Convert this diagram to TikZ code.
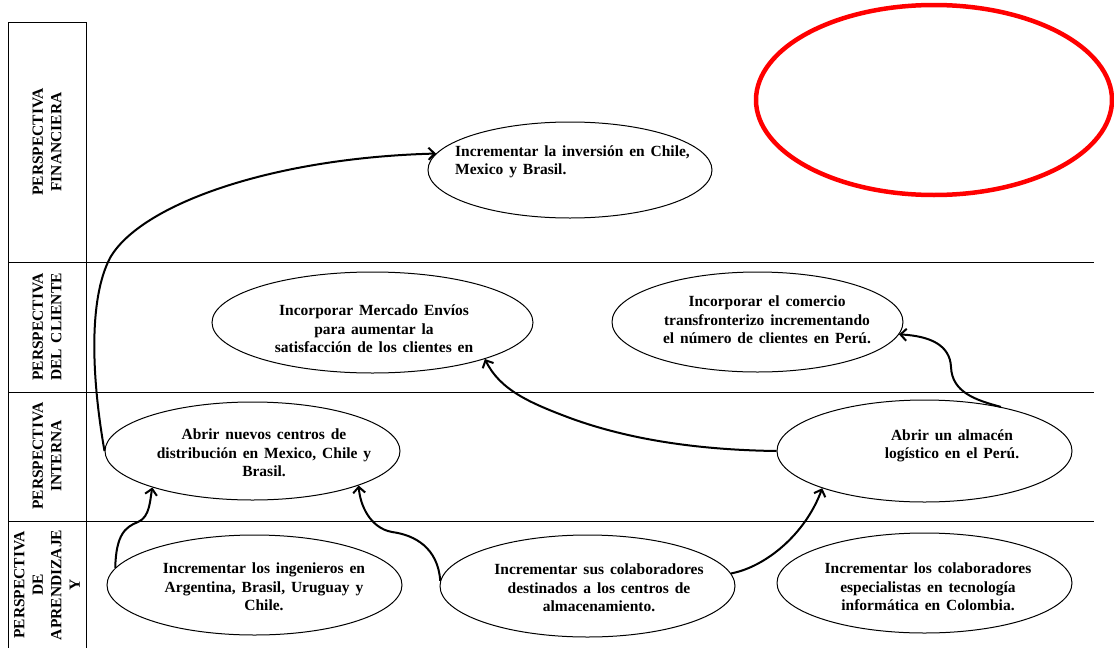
\documentclass[tikz,border=0pt]{standalone}
\usepackage{fontspec}
\setmainfont{Liberation Serif}
\usetikzlibrary{arrows.meta,shapes.geometric}
\newcommand\goalfont{\bfseries\fontsize{15.5}{18.5}\selectfont\spaceskip 0.38em\relax}

\begin{document}
\begin{tikzpicture}[x=1pt,y=-1pt,>={Straight Barb[length=6pt,width=12pt]},
 goal/.style={draw,ellipse,line width=1pt,minimum width=295pt,minimum height=100pt,inner sep=0pt},
 txt/.style={inner sep=0pt,align=center,font=\goalfont},
 persp/.style={txt,rotate=90},
 link/.style={->,line width=2pt},
 band/.style={line width=0.8pt}]
\useasboundingbox (0,0) rectangle (1114,648);
\draw[band] (8,648) -- (8,22) -- (86,22) -- (86,648);
\foreach \y in {262,392,521} \draw[band] (8,\y) -- (1094,\y);
\node[persp] (finlbl) at (47,142) {PERSPECTIVA\\FINANCIERA};
\node[persp] (clilbl) at (47,327) {PERSPECTIVA\\DEL CLIENTE};
\node[persp] (intlbl) at (47,456) {PERSPECTIVA\\INTERNA};
\node[persp] (aprlbl) at (47,585) {PERSPECTIVA\\DE\\APRENDIZAJE\\Y};
\node[goal,draw=red,line width=4.5pt,minimum width=356pt,minimum height=190pt] (meta) at (934,100) {};
\node[goal,minimum width=284pt,minimum height=96pt] (fin) at (570,170) {};
\node[txt,align=left,anchor=west] (fintxt) at (455,162) {Incrementar la inversión en Chile,\\Mexico y Brasil.};
\node[goal,minimum width=321pt,minimum height=101pt] (cli1) at (372.5,322.5) {};
\node[txt] (cli1txt) at (374,329) {Incorporar Mercado Envíos\\para aumentar la\\satisfacción de los clientes en};
\node[goal,minimum width=291pt] (cli2) at (757.5,322) {};
\node[txt] (cli2txt) at (767,320) {Incorporar el comercio\\transfronterizo incrementando\\el número de clientes en Perú.};
\node[goal,minimum height=98pt] (int1) at (252.5,451) {};
\node[txt] (int1txt) at (264,453) {Abrir nuevos centros de\\distribución en Mexico, Chile y\\Brasil.};
\node[goal,minimum height=102pt] (int2) at (924.5,451) {};
\node[txt] (int2txt) at (952,446) {Abrir un almacén\\logístico en el Perú.};
\node[goal] (apr1) at (254.5,585) {};
\node[txt] (apr1txt) at (264,587) {Incrementar los ingenieros en\\Argentina, Brasil, Uruguay y\\Chile.};
\node[goal,minimum height=102pt] (apr2) at (587.5,586) {};
\node[txt] (apr2txt) at (599,588) {Incrementar sus colaboradores\\destinados a los centros de\\almacenamiento.};
\node[goal] (apr3) at (924.5,583) {};
\node[txt] (apr3txt) at (928,587) {Incrementar los colaboradores\\especialistas en tecnología\\informática en Colombia.};
\draw[link] (int1.west) .. controls (92,380) and (88,300) .. (110,258) .. controls (140,205) and (270,158) .. (fin.173);
\draw[link] (apr1.173) .. controls (116,535) and (125,527) .. (138,522) .. controls (150,517) and (150,500) .. (int1.200);
\draw[link] (apr2.178) .. controls (438,548) and (415,535) .. (392,532) .. controls (370,528) and (360,505) .. (int1.342);
\draw[link] (apr2.5) .. controls (765,567) and (805,535) .. (int2.200);
\draw[link] (int2.west) .. controls (700,450) and (630,440) .. (570,418) .. controls (530,403) and (500,390) .. (cli1.342);
\draw[link] (int2.30) .. controls (975,400) and (952,392) .. (951,367) .. controls (950,345) and (930,336) .. (cli2.355);
\end{tikzpicture}
\end{document}
